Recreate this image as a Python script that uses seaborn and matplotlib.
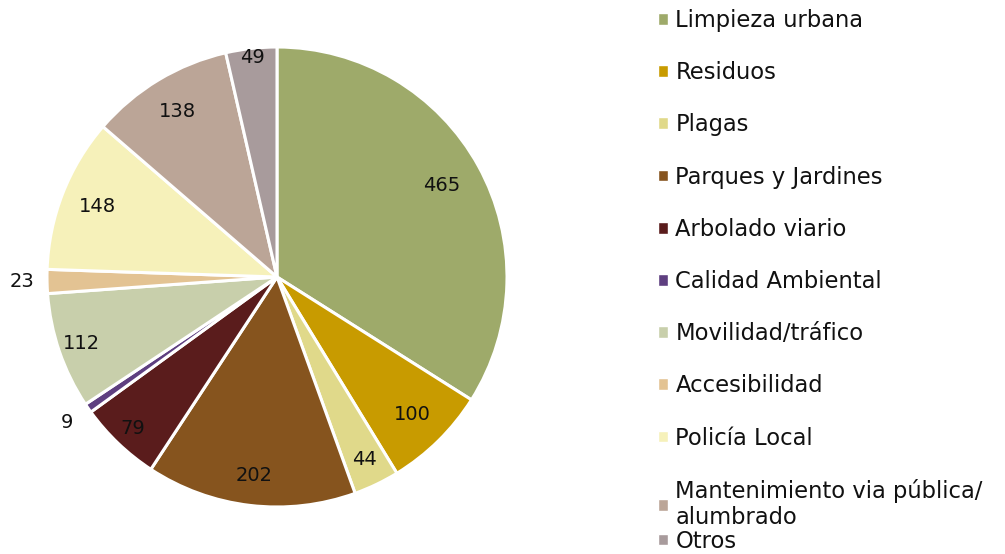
import numpy as np
import seaborn as sns
import matplotlib.pyplot as plt
from matplotlib.patches import Patch

categorias = ["Limpieza urbana", "Residuos", "Plagas", "Parques y Jardines",
              "Arbolado viario", "Calidad Ambiental", "Movilidad/tráfico",
              "Accesibilidad", "Policía Local",
              "Mantenimiento via pública/\nalumbrado", "Otros"]
valores = [465, 100, 44, 202, 79, 9, 112, 23, 148, 138, 49]
colores = ["#9EAA6A", "#C89B00", "#E0D98A", "#86541E", "#5A1C1C", "#5E3F80",
           "#C8CFAB", "#E3C393", "#F6F1BA", "#BBA597", "#A89B9C"]

# distancia radial de cada etiqueta (posición "mejor ajuste" de Excel)
dist_etiqueta = [0.82, 0.84, 0.88, 0.87, 0.91, 1.11, 0.90, 1.11, 0.84, 0.84, 0.96]

sns.set_theme(style="white")
plt.rcParams['font.family'] = ['DejaVu Sans']

fig = plt.figure(figsize=(10.05, 5.54), dpi=100)
ax = fig.add_axes([47 / 1005, 47 / 554, 460 / 1005, 460 / 554])

wedges, _ = ax.pie(valores, colors=colores, startangle=90, counterclock=False,
                   wedgeprops=dict(edgecolor="white", linewidth=2.2))
ax.set_xlim(-1, 1)
ax.set_ylim(-1, 1)
ax.set_aspect("equal")

for w, v, r in zip(wedges, valores, dist_etiqueta):
    ang = np.deg2rad((w.theta1 + w.theta2) / 2)
    ax.text(r * np.cos(ang), r * np.sin(ang), str(v), ha="center", va="center",
            fontsize=14, color="#111111")

handles = [Patch(facecolor=c, edgecolor="white") for c in colores]
estilo = dict(frameon=False, fontsize=16.3, handlelength=0.42, handleheight=0.42,
              handletextpad=0.35, borderaxespad=0, borderpad=0, labelcolor="#111111")

leg1 = fig.legend(handles[:-1], categorias[:-1], loc="upper left",
                  bbox_to_anchor=(658 / 1005, 1 - 9 / 554), labelspacing=1.29, **estilo)
leg2 = fig.legend(handles[-1:], categorias[-1:], loc="center left",
                  bbox_to_anchor=(658 / 1005, 1 - 541 / 554), **estilo)

plt.savefig("out.png", dpi=100)
